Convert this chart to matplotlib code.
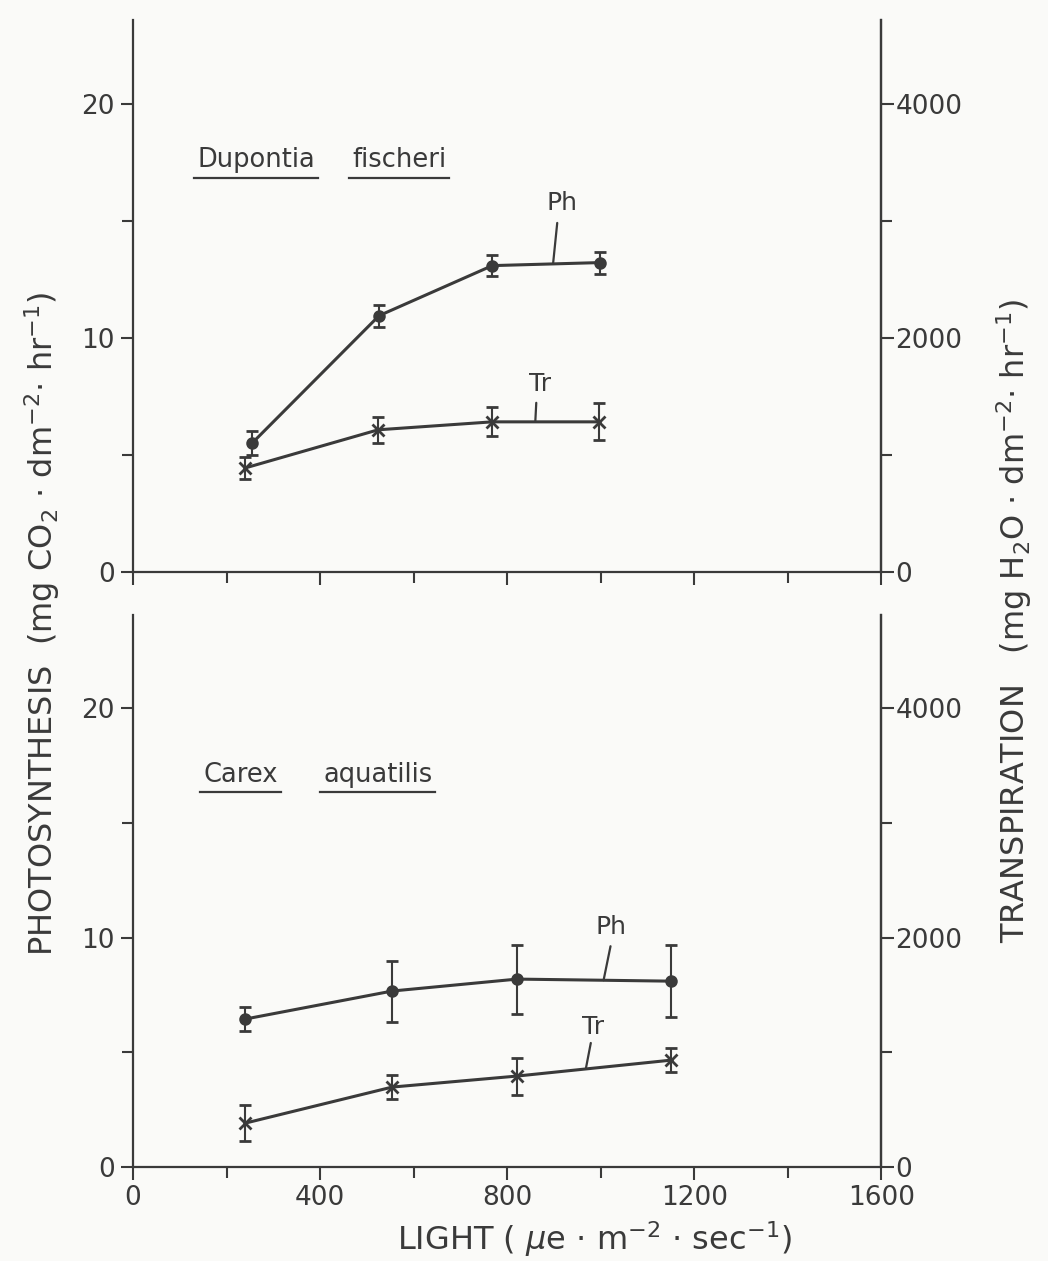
import numpy as np
import matplotlib
matplotlib.use("Agg")
import matplotlib.pyplot as plt
from matplotlib.ticker import MultipleLocator

# Werte aus der Abbildung abgelesen
# oberes Feld: Dupontia fischeri
dup_ph_x = [255, 526, 768, 999]
dup_ph = [5.52, 10.96, 13.1, 13.23]
dup_ph_err = [0.5, 0.47, 0.45, 0.47]
dup_tr_x = [240, 524, 768, 997]
dup_tr = [890, 1216, 1284, 1284]
dup_tr_err = [94, 111, 124, 158]

# unteres Feld: Carex aquatilis
car_ph_x = [240, 554, 821, 1151]
car_ph = [6.45, 7.67, 8.19, 8.1]
car_ph_err = [0.52, 1.33, 1.5, 1.57]
car_tr_x = [240, 554, 821, 1151]
car_tr = [383, 697, 793, 932]
car_tr_err = [157, 105, 161, 105]

x_ticks = [0, 400, 800, 1200, 1600]
left_ticks = [0, 10, 20]
right_ticks = [0, 2000, 4000]

ink = "#3a3a3a"
plt.rcParams['font.family'] = ['DejaVu Sans']
plt.rcParams['text.color'] = ink
plt.rcParams['axes.edgecolor'] = ink
plt.rcParams['xtick.color'] = ink
plt.rcParams['ytick.color'] = ink

fig = plt.figure(figsize=(10.48, 12.61), dpi=100)
fig.patch.set_facecolor("#fafaf8")


def setup_panel(rect, ytop, show_xlabels):
    ax = fig.add_axes(rect)
    ax.set_facecolor("none")
    ax.set_xlim(0, 1600)
    ax.set_ylim(0, ytop)
    ax.spines['top'].set_visible(False)
    for s in ax.spines.values():
        s.set_linewidth(1.6)
    ax.set_xticks(x_ticks)
    ax.xaxis.set_minor_locator(MultipleLocator(200))
    ax.set_yticks(left_ticks)
    ax.yaxis.set_minor_locator(MultipleLocator(5))
    ax.tick_params(which='both', direction='out', width=1.5, labelsize=19, pad=4)
    ax.tick_params(which='major', length=9)
    ax.tick_params(which='minor', length=8)
    if not show_xlabels:
        ax.tick_params(axis='x', labelbottom=False)
    ax2 = ax.twinx()
    ax2.set_ylim(0, ytop * 200)
    ax2.spines['top'].set_visible(False)
    ax2.spines['left'].set_visible(False)
    ax2.spines['bottom'].set_visible(False)
    ax2.spines['right'].set_linewidth(1.6)
    ax2.set_yticks(right_ticks)
    ax2.yaxis.set_minor_locator(MultipleLocator(1000))
    ax2.tick_params(which='both', direction='out', width=1.5, labelsize=19, pad=1)
    ax2.tick_params(which='major', length=9)
    ax2.tick_params(which='minor', length=8)
    return ax, ax2


def draw_series(ax, x, y, err, marker, ms):
    ax.errorbar(x, y, yerr=err, color=ink, lw=2.2, marker=marker, ms=ms,
                mew=2.0, elinewidth=1.5, capsize=4.5, capthick=1.5, zorder=3)


def leader(ax, x, xs, ys, label, line_off, text_off):
    # Beschriftung mit kurzem Strich auf die Kurve
    y = np.interp(x, xs, ys)
    ax.annotate("", xy=(x, y), xytext=line_off, textcoords='offset points',
                arrowprops=dict(arrowstyle='-', color=ink, lw=1.6, shrinkA=0, shrinkB=0))
    ax.annotate(label, xy=(x, y), xytext=text_off, textcoords='offset points',
                ha='center', va='bottom', fontsize=18, color=ink)


def species(ax, words, xs, y, uy):
    for w, x0 in zip(words, xs):
        t = ax.text(x0, y, w, transform=ax.transAxes, fontsize=18.5, ha='left', va='baseline')
        fig.canvas.draw()
        bb = t.get_window_extent().transformed(ax.transAxes.inverted())
        ax.plot([bb.x0 - 0.004, bb.x1 + 0.004], [uy, uy], transform=ax.transAxes,
                color=ink, lw=1.6, clip_on=False)


# oberes Feld
ax_t, ax_t2 = setup_panel([0.127, 0.5464, 0.714, 0.4377], 23.6, False)
draw_series(ax_t, dup_ph_x, dup_ph, dup_ph_err, 'o', 7)
draw_series(ax_t2, dup_tr_x, dup_tr, dup_tr_err, 'x', 8)
leader(ax_t, 898, dup_ph_x, dup_ph, "Ph", (3, 29.5), (6.5, 35))
leader(ax_t2, 860, dup_tr_x, dup_tr, "Tr", (0.7, 13.7), (3.6, 18.5))
species(ax_t, ["Dupontia", "fischeri"], [0.086, 0.293], 0.734, 0.714)

# unteres Feld
ax_b, ax_b2 = setup_panel([0.127, 0.0745, 0.714, 0.4377], 24.05, True)
draw_series(ax_b, car_ph_x, car_ph, car_ph_err, 'o', 7)
draw_series(ax_b2, car_tr_x, car_tr, car_tr_err, 'x', 8)
leader(ax_b, 1006, car_ph_x, car_ph, "Ph", (5, 24.5), (5, 29.5))
leader(ax_b2, 968, car_tr_x, car_tr, "Tr", (3.6, 18.7), (5, 21.8))
species(ax_b, ["Carex", "aquatilis"], [0.094, 0.254], 0.697, 0.679)

fig.text(0.04, 0.505, r"PHOTOSYNTHESIS  (mg CO$_2$ $\cdot$ dm$^{-2}$$\cdot$ hr$^{-1}$)",
         rotation=90, ha='center', va='center', fontsize=23)
fig.text(0.968, 0.508, r"TRANSPIRATION   (mg H$_2$O $\cdot$ dm$^{-2}$$\cdot$ hr$^{-1}$)",
         rotation=90, ha='center', va='center', fontsize=23)
fig.text(0.567, 0.017, r"LIGHT ( $\mu$e $\cdot$ m$^{-2}$ $\cdot$ sec$^{-1}$)",
         ha='center', va='center', fontsize=23)

fig.savefig("out.png", dpi=100, facecolor=fig.get_facecolor())
